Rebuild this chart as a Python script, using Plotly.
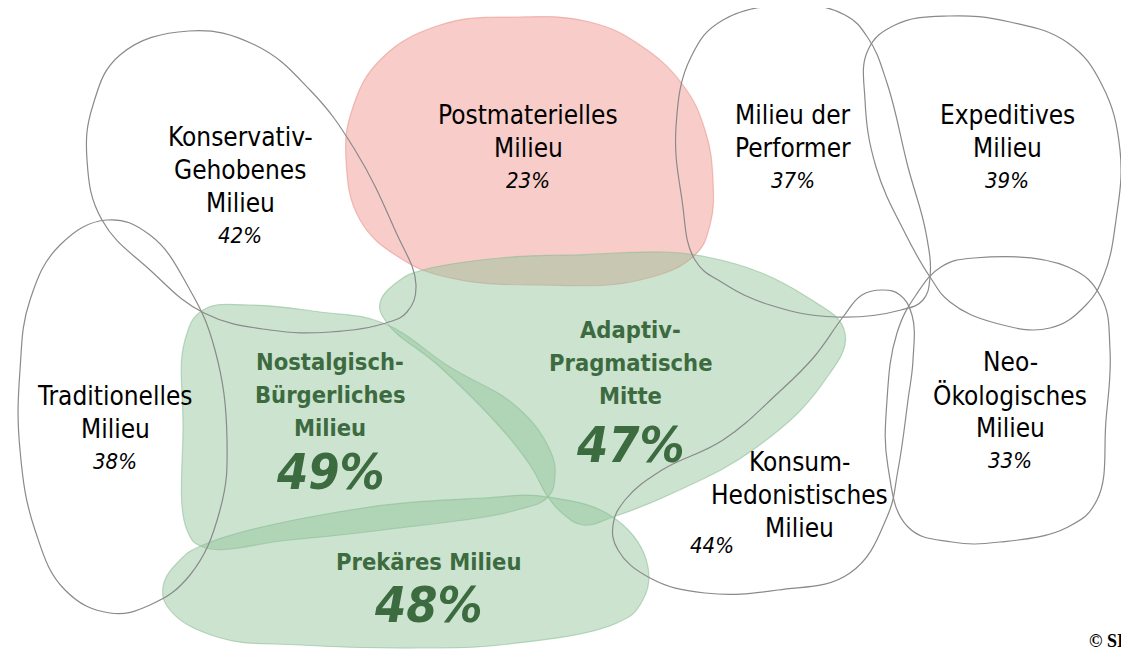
import plotly.graph_objects as go

# milieu names (label lines) and share values
milieus = ["Konservativ-Gehobenes Milieu", "Postmaterielles Milieu", "Milieu der Performer",
           "Expeditives Milieu", "Traditionelles Milieu", "Nostalgisch-Bürgerliches Milieu",
           "Adaptiv-Pragmatische Mitte", "Prekäres Milieu", "Konsum-Hedonistisches Milieu",
           "Neo-Ökologisches Milieu"]
label_lines = [["Konservativ-", "Gehobenes", "Milieu"], ["Postmaterielles", "Milieu"],
               ["Milieu der", "Performer"], ["Expeditives", "Milieu"], ["Traditionelles", "Milieu"],
               ["Nostalgisch-", "Bürgerliches", "Milieu"], ["Adaptiv-", "Pragmatische", "Mitte"],
               ["Prekäres Milieu"], ["Konsum-", "Hedonistisches", "Milieu"],
               ["Neo-", "Ökologisches", "Milieu"]]
shares = [42, 23, 37, 39, 38, 49, 47, 48, 44, 33]
group = ["none", "low", "none", "none", "none", "high", "high", "high", "none", "none"]

# outline geometry of each milieu (pixel space of the map)
blobs = [
    [(189, 31), (255, 45), (310, 90), (355, 150), (395, 230), (416, 285), (407, 312), (386, 323),
     (330, 332), (270, 330), (204, 313), (150, 270), (102, 220), (87, 160), (93, 105), (120, 55)],
    [(518, 17), (590, 22), (640, 45), (683, 85), (705, 130), (713, 180), (710, 225), (695, 255),
     (640, 280), (540, 285), (450, 278), (400, 258), (360, 220), (346, 160), (352, 110), (380, 60),
     (440, 25)],
    [(796, 5), (845, 15), (868, 38), (887, 83), (908, 167), (926, 233), (930, 277), (923, 300),
     (901, 310), (836, 317), (770, 305), (723, 283), (695, 260), (682, 200), (676, 127), (691, 57),
     (723, 20)],
    [(948, 16), (1010, 22), (1068, 43), (1102, 85), (1120, 150), (1116, 220), (1104, 275),
     (1086, 305), (1050, 328), (995, 323), (950, 302), (930, 277), (905, 233), (876, 167),
     (865, 100), (868, 50), (895, 25)],
    [(107, 220), (150, 235), (190, 290), (215, 350), (227, 440), (220, 510), (190, 575), (150, 605),
     (110, 613), (65, 590), (35, 530), (20, 450), (20, 370), (30, 300), (60, 245)],
    [(203, 310), (250, 305), (320, 312), (383, 323), (450, 367), (517, 407), (550, 450), (555, 477),
     (548, 497), (517, 510), (383, 530), (290, 540), (203, 547), (187, 530), (183, 423), (185, 340)],
    [(380, 303), (400, 280), (423, 270), (500, 258), (573, 255), (707, 257), (807, 297), (845, 333),
     (823, 383), (757, 447), (673, 493), (613, 517), (583, 525), (562, 513), (548, 497), (530, 465),
     (500, 427), (440, 367), (387, 323)],
    [(163, 587), (180, 560), (203, 545), (350, 510), (483, 498), (548, 497), (617, 520), (648, 567),
     (640, 605), (617, 623), (500, 645), (417, 648), (300, 645), (217, 637), (170, 610)],
    [(883, 290), (900, 295), (912, 315), (913, 360), (908, 400), (898, 470), (887, 517), (850, 573),
     (778, 590), (705, 593), (650, 578), (618, 550), (613, 525), (625, 500), (662, 470), (723, 440),
     (778, 393), (814, 357), (843, 317), (862, 295)],
    [(974, 258), (1068, 267), (1101, 297), (1110, 350), (1106, 420), (1097, 500), (1068, 527),
     (1000, 542), (952, 542), (908, 527), (888, 467), (887, 400), (897, 333), (916, 295), (941, 267)],
]
# label anchor: x centre, y of first line; pct positions for the large/odd ones
label_pos = [(240, 137), (528, 115), (793, 115), (1007, 115), (115, 396), (330, 362), (630, 330),
             (428, 562), (799, 462), (1010, 362)]
pct_pos = [None, None, None, None, None, (330, 472), (630, 445), (428, 605), (712, 545), None]

FONT = "DejaVu Sans Condensed, Liberation Sans Narrow, DejaVu Sans"
GREEN_TXT = "#3d6b40"
fills = {"none": "rgba(0,0,0,0)", "low": "rgba(238,130,120,0.40)", "high": "rgba(142,193,151,0.45)"}
lines = {"none": "#8a8a8a", "low": "rgba(230,140,130,0.5)", "high": "rgba(130,185,140,0.5)"}

fig = go.Figure()
order = [1, 5, 6, 7, 0, 2, 3, 4, 8, 9]
for i in order:
    pts = blobs[i] + [blobs[i][0]]
    fig.add_trace(go.Scatter(
        x=[p[0] for p in pts], y=[p[1] for p in pts], mode="lines",
        line=dict(shape="spline", smoothing=1.2, color=lines[group[i]], width=1.2),
        fill="toself", fillcolor=fills[group[i]], hoverinfo="skip", showlegend=False))

LH = 33
for i, name in enumerate(milieus):
    x0, y0 = label_pos[i]
    hi = group[i] == "high"
    col = GREEN_TXT if hi else "black"
    txt_lines = label_lines[i]
    for k, ln in enumerate(txt_lines):
        fig.add_annotation(x=x0, y=y0 + k * LH, text=("<b>%s</b>" % ln) if hi else ln,
                           showarrow=False,
                           font=dict(family=FONT, size=23.5 if hi else 26, color=col))
    pct = "%d%%" % shares[i]
    if pct_pos[i] is not None:
        px, py = pct_pos[i]
    else:
        px, py = x0, y0 + len(txt_lines) * LH - 1
    if hi:
        fig.add_annotation(x=px, y=py, text="<b><i>%s</i></b>" % pct, showarrow=False,
                           font=dict(family=FONT, size=50, color=GREEN_TXT))
    else:
        fig.add_annotation(x=px, y=py, text="<i>%s</i>" % pct, showarrow=False,
                           font=dict(family=FONT, size=22, color="black"))

fig.add_annotation(x=1106, y=641, text="<b>© SI</b>", showarrow=False,
                   font=dict(family="Liberation Serif", size=18, color="black"))

# page body has an 8px margin: shift the ranges so map pixels land on page pixels
fig.update_xaxes(range=[8, 1129], visible=False, fixedrange=True)
fig.update_yaxes(range=[652, 8], visible=False, fixedrange=True)
fig.update_layout(width=1121, height=644, margin=dict(l=0, r=0, t=0, b=0),
                  plot_bgcolor="white", paper_bgcolor="white")

fig.write_html("out.html")
